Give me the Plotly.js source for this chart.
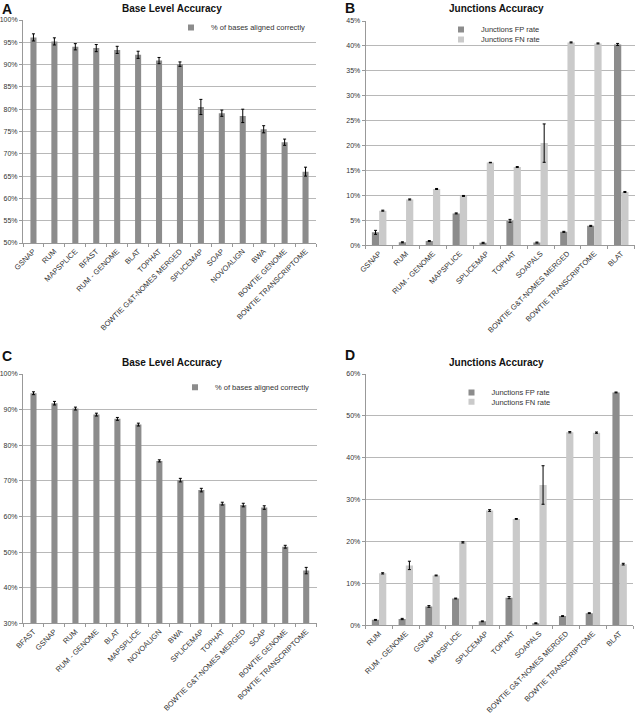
<!DOCTYPE html>
<html>
<head>
<meta charset="utf-8">
<script src="https://cdn.plot.ly/plotly-3.0.1.min.js"></script>
<style>html,body{margin:0;padding:0;background:#fff;}#chart{width:636px;height:714px;}</style>
</head>
<body>
<div id="chart"></div>
<script>
// Panel A
const catsA = ['GSNAP','RUM','MAPSPLICE','BFAST','RUM - GENOME','BLAT','TOPHAT','BOWTIE G&T-NOMES MERGED','SPLICEMAP','SOAP','NOVOALIGN','BWA','BOWTIE GENOME','BOWTIE TRANSCRIPTOME'];
const valsA = [96.1,95.2,94.0,93.7,93.3,92.2,90.9,90.1,80.5,79.1,78.5,75.5,72.6,66.0];
const errA  = [0.8,0.8,0.7,0.8,0.8,0.8,0.7,0.5,1.7,0.7,1.5,0.8,0.7,1.0];
// Panel B
const catsB = ['GSNAP','RUM','RUM - GENOME','MAPSPLICE','SPLICEMAP','TOPHAT','SOAPALS','BOWTIE G&T-NOMES MERGED','BOWTIE TRANSCRIPTOME','BLAT'];
const fpB    = [2.6,0.6,0.85,6.4,0.5,4.9,0.55,2.7,3.9,40.3];
const fpErrB = [0.4,0.1,0.1,0.1,0.1,0.3,0.1,0.1,0.1,0.2];
const fnB    = [6.95,9.2,11.3,9.9,16.6,15.7,20.5,40.7,40.5,10.7];
const fnErrB = [0.1,0.1,0.1,0.1,0.05,0.1,3.85,0.1,0.1,0.1];
// Panel C
const catsC = ['BFAST','GSNAP','RUM','RUM - GENOME','BLAT','MAPSPLICE','NOVOALIGN','BWA','SPLICEMAP','TOPHAT','BOWTIE G&T-NOMES MERGED','SOAP','BOWTIE GENOME','BOWTIE TRANSCRIPTOME'];
const valsC = [94.6,91.8,90.3,88.6,87.4,85.8,75.6,70.2,67.4,63.6,63.2,62.5,51.5,44.8];
const errC  = [0.4,0.5,0.4,0.4,0.4,0.4,0.3,0.5,0.5,0.4,0.5,0.5,0.4,0.9];
// Panel D
const catsD = ['RUM','RUM - GENOME','GSNAP','MAPSPLICE','SPLICEMAP','TOPHAT','SOAPALS','BOWTIE G&T-NOMES MERGED','BOWTIE TRANSCRIPTOME','BLAT'];
const fpD    = [1.3,1.5,4.5,6.4,0.95,6.6,0.5,2.2,2.9,55.6];
const fpErrD = [0.1,0.15,0.2,0.1,0.1,0.25,0.1,0.1,0.1,0.1];
const fnD    = [12.4,14.3,11.9,19.8,27.4,25.4,33.5,46.1,46.0,14.6];
const fnErrD = [0.15,1.0,0.1,0.15,0.2,0.1,4.6,0.15,0.15,0.2];

const nameBase = '% of bases aligned correctly';
const nameFP = 'Junctions FP rate';
const nameFN = 'Junctions FN rate';
const DARK = '#8c8c8c', LIGHT = '#cacaca';
const W = 636, H = 714;
const px = v => v / W;
const py = v => 1 - v / H;

function err(arr){ return {type:'data', array:arr, visible:true, color:'#000', thickness:1, width:1.5}; }
// legend-only entries with small square swatches (no data drawn)
function key(name, color, xa, ya, lg){
  return {type:'scatter', mode:'markers', x:[null], y:[null], name:name, xaxis:xa, yaxis:ya, legend:lg,
    marker:{symbol:'square', size:6, color:color}, hoverinfo:'skip'};
}

const traces = [
  {type:'bar', x:catsA, y:valsA, error_y:err(errA), name:nameBase, marker:{color:DARK}, width:0.29, xaxis:'x', yaxis:'y', showlegend:false},
  {type:'bar', x:catsB, y:fpB, error_y:err(fpErrB), name:nameFP, marker:{color:DARK}, width:0.27, offset:-0.27, xaxis:'x2', yaxis:'y2', showlegend:false},
  {type:'bar', x:catsB, y:fnB, error_y:err(fnErrB), name:nameFN, marker:{color:LIGHT}, width:0.27, offset:0, xaxis:'x2', yaxis:'y2', showlegend:false},
  {type:'bar', x:catsC, y:valsC, error_y:err(errC), name:nameBase, marker:{color:DARK}, width:0.29, xaxis:'x3', yaxis:'y3', showlegend:false},
  {type:'bar', x:catsD, y:fpD, error_y:err(fpErrD), name:nameFP, marker:{color:DARK}, width:0.27, offset:-0.27, xaxis:'x4', yaxis:'y4', showlegend:false},
  {type:'bar', x:catsD, y:fnD, error_y:err(fnErrD), name:nameFN, marker:{color:LIGHT}, width:0.27, offset:0, xaxis:'x4', yaxis:'y4', showlegend:false},
  key(nameBase, DARK, 'x', 'y', 'legend'),
  key(nameFP, DARK, 'x2', 'y2', 'legend2'),
  key(nameFN, LIGHT, 'x2', 'y2', 'legend3'),
  key(nameBase, DARK, 'x3', 'y3', 'legend4'),
  key(nameFP, DARK, 'x4', 'y4', 'legend5'),
  key(nameFN, LIGHT, 'x4', 'y4', 'legend6')
];

const tickFontX = {family:'Liberation Sans, Arial, sans-serif', size:7.5, color:'#333'};
const tickFontY = {family:'Liberation Sans, Arial, sans-serif', size:7, color:'#333'};
function xax(domain, anchor){
  return {domain:domain, anchor:anchor, type:'category', showline:true, linecolor:'#999', linewidth:1,
    ticks:'outside', tickson:'boundaries', ticklen:3, tickcolor:'#999', tickangle:-45,
    tickfont:tickFontX, showgrid:false, zeroline:false, fixedrange:true};
}
function yax(domain, anchor, range, dtick){
  return {domain:domain, anchor:anchor, range:range, dtick:dtick, tick0:0, ticksuffix:'%',
    showline:true, linecolor:'#999', linewidth:1, ticks:'outside', ticklen:3, tickcolor:'#999',
    tickfont:tickFontY, showgrid:true, gridcolor:'#b8b8b8', gridwidth:1, zeroline:false, fixedrange:true};
}
function leg(x, y){
  return {x:px(x), y:py(y), xanchor:'left', yanchor:'top', bgcolor:'rgba(0,0,0,0)', borderwidth:0,
    font:{family:'Liberation Sans, Arial, sans-serif', size:7.5, color:'#333'}, itemwidth:30, tracegroupgap:0};
}
const titleFont = {family:'Liberation Sans, Arial, sans-serif', size:10, color:'#111', weight:'bold'};
const letterFont = {family:'Liberation Sans, Arial, sans-serif', size:14, color:'#111', weight:'bold'};
function ann(text, x, y, font){
  return {text:text, x:px(x), y:py(y), xref:'paper', yref:'paper', xanchor:'center', yanchor:'middle', showarrow:false, font:font};
}

const layout = {
  width:W, height:H, margin:{l:0,r:0,t:0,b:0}, paper_bgcolor:'#fff', plot_bgcolor:'rgba(0,0,0,0)',
  barmode:'overlay', showlegend:true,
  xaxis: xax([px(23), px(316)], 'y'),
  yaxis: yax([py(243), py(20)], 'x', [50,100], 5),
  xaxis2: xax([px(365.7), px(634.7)], 'y2'),
  yaxis2: yax([py(245.3), py(21)], 'x2', [0,45], 5),
  xaxis3: xax([px(23), px(316.7)], 'y3'),
  yaxis3: yax([py(623.3), py(374)], 'x3', [30,100], 10),
  xaxis4: xax([px(365.7), px(633)], 'y4'),
  yaxis4: yax([py(625.3), py(374)], 'x4', [0,60], 10),
  legend:  leg(171, 13),
  legend2: leg(441, 15),
  legend3: leg(441, 25),
  legend4: leg(175, 372.7),
  legend5: leg(451.5, 378),
  legend6: leg(451.5, 387.3),
  annotations: [
    ann('Base Level Accuracy', 172, 9, titleFont),
    ann('Junctions Accuracy', 496, 9, titleFont),
    ann('Base Level Accuracy', 172, 362, titleFont),
    ann('Junctions Accuracy', 496, 362, titleFont),
    ann('A', 7, 9, letterFont),
    ann('B', 350, 8, letterFont),
    ann('C', 7, 356, letterFont),
    ann('D', 350, 355, letterFont)
  ]
};

Plotly.newPlot('chart', traces, layout, {staticPlot:true, displayModeBar:false});
</script>
</body>
</html>
